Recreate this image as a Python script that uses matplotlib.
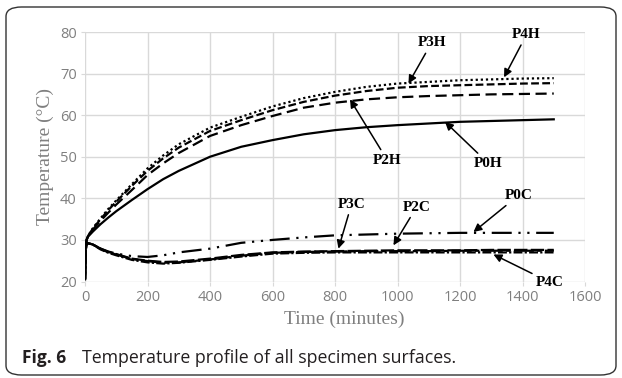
import matplotlib
matplotlib.use("Agg")
import matplotlib.pyplot as plt
from matplotlib.patches import FancyBboxPatch

# time axis (minutes)
t = [0, 2, 5, 10, 25, 50, 75, 100, 150, 200, 250, 300, 400, 500, 600, 700,
     800, 900, 1000, 1100, 1200, 1300, 1400, 1500]

p0h = [20.5, 28.0, 30.0, 30.8, 32.0, 33.8, 35.4, 36.9, 39.6, 42.2, 44.6, 46.6,
       50.0, 52.4, 54.0, 55.4, 56.4, 57.1, 57.6, 58.0, 58.4, 58.6, 58.8, 59.0]
p2h = [20.5, 28.0, 30.0, 31.0, 32.5, 34.6, 36.6, 38.5, 42.0, 45.6, 48.4, 50.9,
       55.0, 57.6, 59.8, 61.8, 63.0, 63.8, 64.3, 64.6, 64.8, 65.0, 65.1, 65.2]
p3h = [20.5, 28.0, 30.0, 31.0, 32.7, 35.0, 37.2, 39.2, 43.0, 46.6, 49.6, 52.2,
       56.2, 58.8, 61.2, 63.2, 64.7, 65.8, 66.6, 67.0, 67.2, 67.4, 67.6, 67.7]
p4h = [20.5, 28.0, 30.0, 31.0, 32.8, 35.2, 37.5, 39.5, 43.4, 47.2, 50.3, 53.0,
       57.0, 59.6, 62.1, 64.1, 65.6, 66.8, 67.6, 68.0, 68.4, 68.6, 68.8, 68.9]

p0c = [20.5, 27.0, 29.0, 29.2, 28.9, 27.9, 27.2, 26.7, 26.1, 25.9, 26.3, 27.0,
       27.9, 29.3, 30.0, 30.6, 31.1, 31.3, 31.5, 31.6, 31.7, 31.7, 31.7, 31.7]
p2c = [20.5, 27.0, 29.0, 29.2, 28.9, 27.9, 27.1, 26.6, 25.5, 25.0, 24.7, 24.8,
       25.5, 26.4, 27.0, 27.2, 27.3, 27.4, 27.5, 27.5, 27.5, 27.6, 27.6, 27.6]
p3c = [20.5, 27.0, 29.0, 29.2, 28.9, 27.8, 27.0, 26.5, 25.4, 24.9, 24.5, 24.6,
       25.3, 26.2, 26.9, 27.1, 27.2, 27.3, 27.3, 27.3, 27.4, 27.4, 27.4, 27.4]
p4c = [20.5, 27.0, 29.0, 29.2, 28.9, 27.7, 26.9, 26.3, 25.2, 24.6, 24.3, 24.5,
       25.2, 26.0, 26.7, 26.9, 27.0, 27.0, 27.0, 27.0, 27.0, 27.0, 27.0, 27.0]

labels = ["P0H", "P2H", "P3H", "P4H", "P0C", "P2C", "P3C", "P4C"]
# (text position, arrow tip) in data units
label_pos = [(1291, 48.4), (967, 49.2), (1109, 77.4), (1413, 79.4),
             (1387, 40.7), (1061, 37.9), (853, 38.6), (1488, 19.8)]
arrow_tip = [(1152, 58.4), (848, 63.8), (1035, 67.6), (1341, 69.1),
             (1243, 31.9), (987, 28.7), (811, 27.9), (1307, 26.5)]

grid_c = "#d9d9d9"
tick_c = "#7f7f7f"

fig = plt.figure(figsize=(6.22, 3.78), dpi=100)
frame = FancyBboxPatch((6 / 622, 3 / 378), 610 / 622, 368 / 378,
                       boxstyle="round,pad=0,rounding_size=0.025",
                       transform=fig.transFigure, fill=False,
                       edgecolor="#333333", linewidth=1.0)
fig.patches.append(frame)

ax = fig.add_axes([85 / 622, 1 - 281.5 / 378, 500 / 622, 249.5 / 378])
lw = 1.6
ax.plot(t, p0h, color="black", lw=lw, ls="-")
ax.plot(t, p2h, color="black", lw=lw, ls=(0, (5, 2.5)))
ax.plot(t, p3h, color="black", lw=lw, ls=(0, (3.5, 1.5)))
ax.plot(t, p4h, color="black", lw=lw, ls=(0, (1, 1.3)))
ax.plot(t, p0c, color="black", lw=lw, ls=(0, (9, 3, 1, 3, 1, 3)))
ax.plot(t, p2c, color="black", lw=lw, ls=(0, (6, 1.5)))
ax.plot(t, p3c, color="black", lw=lw, ls=(0, (9, 1.5, 2, 1.5)))
ax.plot(t, p4c, color="black", lw=lw, ls=(0, (4, 1, 1, 1)))

for lab, pos, tip in zip(labels, label_pos, arrow_tip):
    ax.annotate(lab, xy=tip, xytext=pos, ha="center", va="center",
                fontsize=11, fontweight="bold", family="Liberation Serif",
                arrowprops=dict(arrowstyle="-|>", color="black", lw=1.1,
                                mutation_scale=12, shrinkA=1, shrinkB=0),
                annotation_clip=False)

ax.set_xlim(0, 1600)
ax.set_ylim(20, 80)
ax.set_xticks(range(0, 1601, 200))
ax.set_yticks(range(20, 81, 10))
ax.grid(True, color=grid_c, lw=1.0)
ax.set_axisbelow(True)
for s in ax.spines.values():
    s.set_visible(False)
ax.tick_params(length=3, color=grid_c, labelcolor=tick_c, labelsize=10.5, pad=3)
for lbl in ax.get_xticklabels() + ax.get_yticklabels():
    lbl.set_family("Open Sans")

ax.set_xlabel("Time (minutes)", family="Liberation Serif", fontsize=14,
              color=tick_c, labelpad=5)
ax.xaxis.set_label_coords(0.519, -0.115)
ax.set_ylabel("Temperature (\u00b0C)", family="Liberation Serif", fontsize=14,
              color=tick_c, labelpad=4)

fig.text(22 / 622, 1 - 363 / 378, "Fig. 6", fontsize=12.5, fontweight="bold",
         family="Open Sans", color="#231f20", va="baseline")
fig.text(82 / 622, 1 - 363 / 378, "Temperature profile of all specimen surfaces.",
         fontsize=12.8, family="Open Sans", color="#231f20", va="baseline")

fig.savefig("out.png", dpi=100)
